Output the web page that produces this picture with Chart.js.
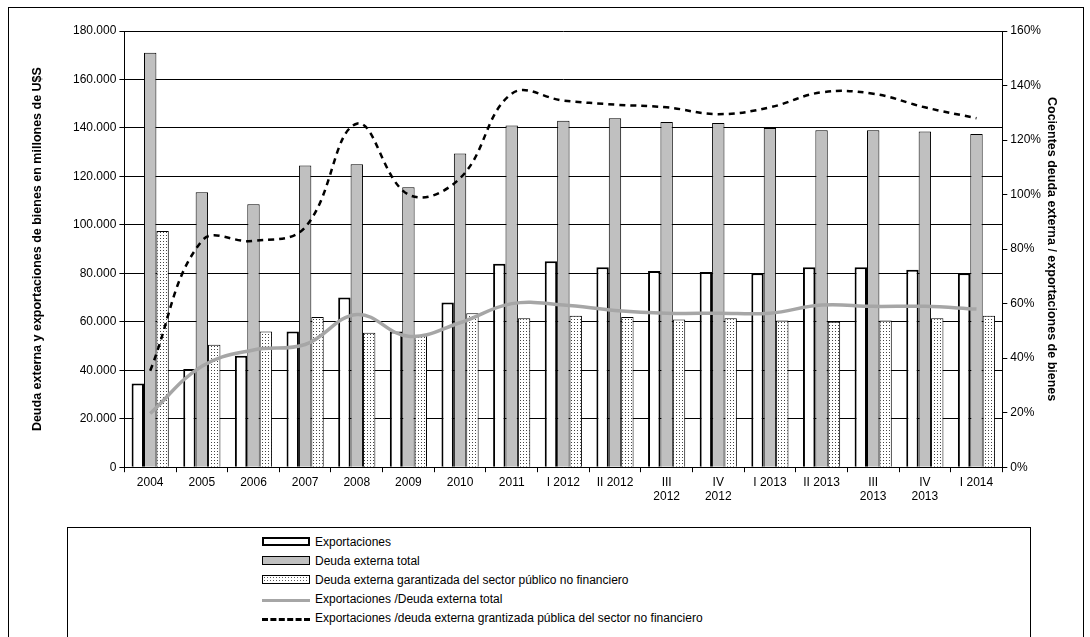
<!DOCTYPE html>
<html>
<head>
<meta charset="utf-8">
<script src="https://cdn.jsdelivr.net/npm/chart.js@4"></script>
<style>
  body { margin: 0; background: #fff; font-family: "Liberation Sans", Arial, sans-serif; overflow: hidden; }
  #frame { position: absolute; left: 8px; top: 7px; width: 1074px; height: 640px; border: 1px solid #000; }
  #wrap { position: absolute; left: 0; top: 0; width: 1090px; height: 507px; }
  #legend { position: absolute; left: 67px; top: 527px; width: 962px; height: 120px; border: 1px solid #000; background: #fff; }
  .item { position: absolute; left: 194px; height: 20px; font-size: 12px; line-height: 20px; }
  .sw { position: absolute; left: 0; top: 4px; width: 48px; height: 9px; box-sizing: border-box; }
  .txt { position: absolute; left: 53px; white-space: nowrap; top: -1px; }
</style>
</head>
<body>
<div id="frame"></div>
<div id="wrap"><canvas id="c"></canvas></div>
<div id="legend">
  <div class="item" style="top:5px"><div class="sw" style="border:2px solid #000;background:#fff"></div><span class="txt">Exportaciones</span></div>
  <div class="item" style="top:24px"><div class="sw" style="border:1px solid #000;background:#c0c0c0"></div><span class="txt">Deuda externa total</span></div>
  <div class="item" style="top:43px"><div class="sw" style="border:1px solid #000;background-color:#fff;background-image:radial-gradient(#555 0.8px,transparent 1px);background-size:3px 3px"></div><span class="txt">Deuda externa garantizada del sector público no financiero</span></div>
  <div class="item" style="top:62px"><div class="sw" style="border:none;border-top:3px solid #a6a6a6;top:9px;height:3px"></div><span class="txt">Exportaciones /Deuda externa total</span></div>
  <div class="item" style="top:81px"><div class="sw" style="border:none;border-top:3px dashed #000;top:9px;height:3px"></div><span class="txt">Exportaciones /deuda externa grantizada pública del sector no financiero</span></div>
</div>
<script>
const categories = ['2004','2005','2006','2007','2008','2009','2010','2011','I 2012','II 2012',['III','2012'],['IV','2012'],'I 2013','II 2013',['III','2013'],['IV','2013'],'I 2014'];
const exportaciones = [34500,40500,46000,56000,70000,56000,68000,84000,85000,82500,81000,80500,80000,82500,82500,81500,80000];
const deudaTotal = [171000,113500,108500,124500,125000,115500,129500,141000,143000,144000,142500,142000,140000,139000,139000,138500,137500];
const deudaGarantizada = [97500,50500,56000,62000,55500,54500,63500,61500,62500,62000,61000,61500,60500,60000,60500,61500,62500];
const ratioTotal = [19.7,37,43,45,56,48,53,60,59.5,57.5,56.5,56.5,56.5,59.5,59,59,58];
const ratioGarantizada = [35.4,83,83,88,126,100,106,137,134.5,133,132,129.5,132,137.5,137,132,128];

function dotPattern() {
  const p = document.createElement('canvas');
  p.width = 3; p.height = 3;
  const g = p.getContext('2d');
  g.fillStyle = '#fff'; g.fillRect(0, 0, 3, 3);
  g.fillStyle = '#444'; g.fillRect(1, 1, 1, 1);
  return g.createPattern(p, 'repeat');
}
const ctx = document.getElementById('c');
ctx.width = 1090; ctx.height = 507;

new Chart(ctx, {
  data: {
    labels: categories,
    datasets: [
      { type: 'line', data: ratioGarantizada, yAxisID: 'y1', borderColor: '#000', borderWidth: 2.5, borderDash: [6, 5], pointRadius: 0, tension: 0.4, fill: false },
      { type: 'line', data: ratioTotal, yAxisID: 'y1', borderColor: '#a6a6a6', borderWidth: 3.5, pointRadius: 0, tension: 0.4, fill: false },
      { type: 'bar', data: exportaciones, backgroundColor: '#fff', borderColor: '#000', borderWidth: 2, categoryPercentage: 0.72, barPercentage: 1, order: 2 },
      { type: 'bar', data: deudaTotal, backgroundColor: '#c0c0c0', borderColor: '#000', borderWidth: 1, categoryPercentage: 0.72, barPercentage: 1, order: 2 },
      { type: 'bar', data: deudaGarantizada, backgroundColor: dotPattern(), borderColor: '#000', borderWidth: 1, categoryPercentage: 0.72, barPercentage: 1, order: 2 }
    ]
  },
  options: {
    responsive: false,
    animation: false,
    layout: { padding: { left: 30, right: 4, top: 31, bottom: 0 } },
    plugins: { legend: { display: false }, tooltip: { enabled: false } },
    scales: {
      x: {
        grid: { display: true, drawOnChartArea: false, color: '#000', tickLength: 5, offset: true },
        border: { color: '#000' },
        ticks: { color: '#000', font: { size: 12 }, maxRotation: 0, autoSkip: false }
      },
      y: {
        min: 0, max: 180000,
        ticks: { stepSize: 20000, color: '#000', font: { size: 12 }, callback: v => v === 0 ? '0' : v.toLocaleString('de-DE') },
        grid: { color: '#000', lineWidth: 1, tickLength: 5 },
        border: { color: '#000' },
        title: { display: true, text: 'Deuda externa y exportaciones de bienes en millones de U$S', color: '#000', font: { size: 12.5, weight: 'bold' }, padding: { top: 0, bottom: 25 } }
      },
      y1: {
        position: 'right', min: 0, max: 160,
        ticks: { stepSize: 20, color: '#000', font: { size: 12 }, callback: v => v + '%' },
        grid: { drawOnChartArea: false, color: '#000', tickLength: 5 },
        border: { color: '#000' },
        title: { display: true, text: 'Cocientes deuda externa / exportaciones de bienes', color: '#000', font: { size: 12.5, weight: 'bold' }, padding: { top: 27, bottom: 0 } }
      }
    }
  }
});
</script>
</body>
</html>
